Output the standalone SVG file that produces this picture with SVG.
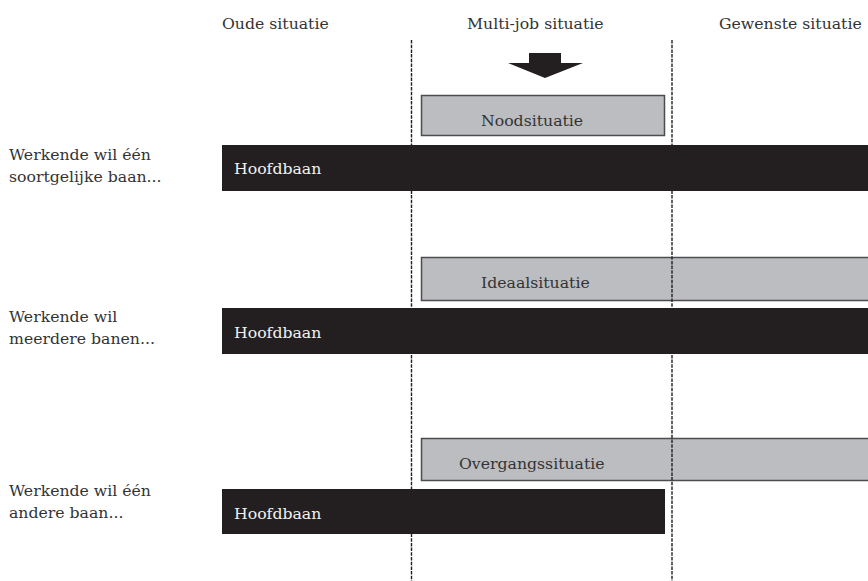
<svg xmlns="http://www.w3.org/2000/svg" width="868" height="581" viewBox="0 0 868 581">
<style>
text{font-family:"DejaVu Serif","Liberation Serif",serif;font-size:15.7px;fill:#333}
.w{fill:#f2f2f2}
.g{fill:#bcbdc0;stroke:#4d4d4f;stroke-width:1.5}
.b{fill:#231f20}
.d{stroke:#231f20;stroke-width:1.4;stroke-dasharray:3.5 1.2;fill:none}
</style>
<rect width="868" height="581" fill="#fff"/>
<g id="headers">
<text x="222" y="29">Oude situatie</text>
<text x="467" y="29">Multi-job situatie</text>
<text x="719" y="29">Gewenste situatie</text>
</g>
<g id="rowlabels">
<text x="9" y="160">Werkende wil één</text>
<text x="9" y="182">soortgelijke baan...</text>
<text x="9" y="322">Werkende wil</text>
<text x="9" y="344">meerdere banen...</text>
<text x="9" y="496">Werkende wil één</text>
<text x="9" y="518">andere baan...</text>
</g>
<g id="noodsituatie"><rect class="g" x="421.5" y="95.5" width="243" height="40"/><text x="481" y="126">Noodsituatie</text></g>
<g id="ideaalsituatie"><rect class="g" x="421.5" y="257.5" width="450" height="43"/><text x="481" y="288">Ideaalsituatie</text></g>
<g id="overgangssituatie"><rect class="g" x="421.5" y="438.5" width="450" height="42"/><text x="459" y="469">Overgangssituatie</text></g>
<g id="connectors">
<line class="d" x1="411.5" y1="40" x2="411.5" y2="581"/>
<line class="d" x1="672" y1="40" x2="672" y2="581"/>
<polygon class="b" points="529,53 561,53 561,63 583,63 545,78 508,63 529,63"/>
</g>
<g id="hoofdbaan1"><rect class="b" x="222" y="145" width="646" height="46"/><text class="w" x="234" y="174">Hoofdbaan</text></g>
<g id="hoofdbaan2"><rect class="b" x="222" y="308" width="646" height="46"/><text class="w" x="234" y="338">Hoofdbaan</text></g>
<g id="hoofdbaan3"><rect class="b" x="222" y="489" width="443" height="45"/><text class="w" x="234" y="519">Hoofdbaan</text></g>
</svg>
